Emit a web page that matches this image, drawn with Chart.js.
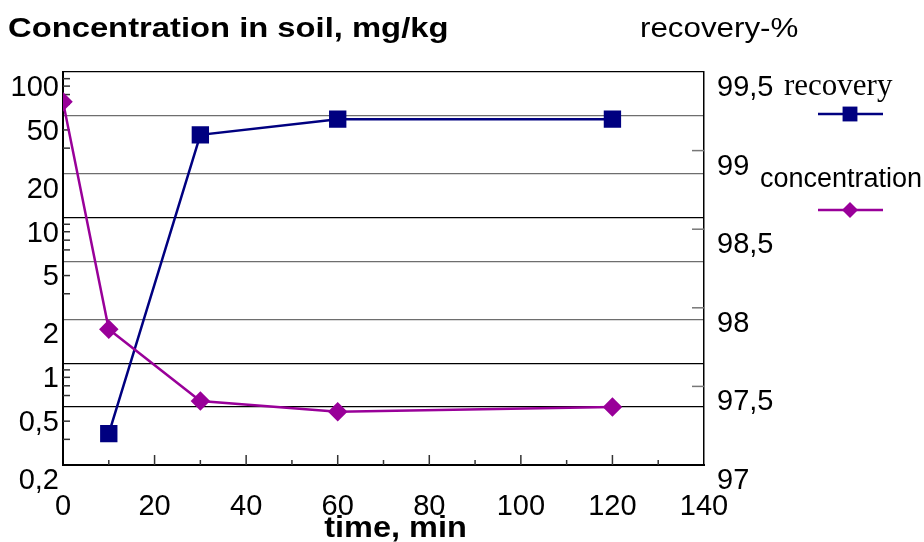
<!DOCTYPE html>
<html>
<head>
<meta charset="utf-8">
<script src="https://cdn.jsdelivr.net/npm/chart.js@4/dist/chart.umd.min.js"></script>
<style>
  body { margin: 0; background: #fff; }
  #wrap { width: 924px; height: 542px; position: relative; }
</style>
</head>
<body>
<div id="wrap"><canvas id="chart"></canvas></div>
<script>
const times = [0, 10, 30, 60, 120];
const concentration = [62.5, 1.71, 0.55, 0.465, 0.5];
const recovery = [null, 97.2, 99.1, 99.2, 99.2];

const concTicks = [0.2, 0.5, 1, 2, 5, 10, 20, 50, 100];
const concMinor = [0.3, 0.4, 0.6, 0.7, 0.8, 0.9, 3, 4, 6, 7, 8, 9, 30, 40, 60, 70, 80, 90];
const recTicks = [97, 97.5, 98, 98.5, 99, 99.5];
const timeTicks = [0, 20, 40, 60, 80, 100, 120, 140];

const blackLines = [0.2, 0.5, 1, 10, 100];
const comma = (v) => String(v).replace('.', ',');
const tickFont = { family: "'Liberation Sans', Arial, sans-serif", size: 29 };

const ctx = document.getElementById('chart');

// short inward tick marks, like the original
const innerTicks = {
    id: 'innerTicks',
    beforeDatasetsDraw(chart) {
        const c = chart.ctx;
        const a = chart.chartArea;
        const sx = chart.scales.x, sl = chart.scales.yConc, sr = chart.scales.yRec;
        c.save();
        c.lineWidth = 1.5;
        c.strokeStyle = '#333';
        for (let v = 10; v < 140; v += 10) {
            const px = sx.getPixelForValue(v);
            const len = v % 20 === 0 ? 10 : 5;
            c.beginPath();
            c.moveTo(px, a.bottom);
            c.lineTo(px, a.bottom - len);
            c.stroke();
        }
        concMinor.forEach(v => {
            const py = sl.getPixelForValue(v);
            c.beginPath();
            c.moveTo(a.left, py);
            c.lineTo(a.left + 7, py);
            c.stroke();
        });
        c.strokeStyle = '#777';
        recTicks.slice(1, -1).forEach(v => {
            const py = sr.getPixelForValue(v);
            c.beginPath();
            c.moveTo(a.right, py);
            c.lineTo(a.right - 12, py);
            c.stroke();
        });
        c.restore();
    }
};

// headings, x title and the legend at the right
const decor = {
    id: 'decor',
    afterDraw(chart) {
        const c = chart.ctx;
        const a = chart.chartArea;
        c.save();
        c.fillStyle = '#000';
        c.textBaseline = 'alphabetic';

        c.save();
        c.translate(8, 37);
        c.scale(1.17, 1);
        c.font = "bold 28px 'Liberation Sans', Arial, sans-serif";
        c.fillText('Concentration in soil, mg/kg', 0, 0);
        c.restore();

        c.save();
        c.translate(640, 37);
        c.scale(1.16, 1);
        c.font = "27px 'Liberation Sans', Arial, sans-serif";
        c.fillText('recovery-%', 0, 0);
        c.restore();

        c.save();
        c.translate((a.left + a.right) / 2 + 12, 537);
        c.scale(1.12, 1);
        c.textAlign = 'center';
        c.font = "bold 29px 'Liberation Sans', Arial, sans-serif";
        c.fillText('time, min', 0, 0);
        c.restore();

        const items = [
            { ds: chart.data.datasets[1], text: 'recovery', font: "31px 'Liberation Serif', 'Times New Roman', serif", tx: a.right + 80, ty: 95, ly: 114 },
            { ds: chart.data.datasets[0], text: 'concentration', font: "27px 'Liberation Sans', Arial, sans-serif", tx: a.right + 56, ty: 187, ly: 210 }
        ];
        items.forEach(it => {
            c.font = it.font;
            c.fillStyle = '#000';
            c.fillText(it.text, it.tx, it.ty);
            c.strokeStyle = it.ds.borderColor;
            c.lineWidth = 2.5;
            c.beginPath();
            c.moveTo(a.right + 114, it.ly);
            c.lineTo(a.right + 179, it.ly);
            c.stroke();
            c.fillStyle = it.ds.pointBackgroundColor;
            Chart.helpers.drawPoint(c, {
                pointStyle: it.ds.pointStyle,
                radius: it.ds.pointRadius,
                rotation: 0,
                borderWidth: 0
            }, a.right + 146, it.ly);
        });
        c.restore();
    }
};

const data = {
    datasets: [
        {
            label: 'concentration',
            data: times.map((t, i) => ({ x: t, y: concentration[i] })),
            yAxisID: 'yConc',
            borderColor: '#990099',
            backgroundColor: '#990099',
            pointBackgroundColor: '#990099',
            pointBorderColor: '#990099',
            pointStyle: 'rectRot',
            pointRadius: 8,
            borderWidth: 2.5,
            tension: 0
        },
        {
            label: 'recovery',
            data: times.map((t, i) => ({ x: t, y: recovery[i] })),
            yAxisID: 'yRec',
            borderColor: '#000080',
            backgroundColor: '#000080',
            pointBackgroundColor: '#000080',
            pointBorderColor: '#000080',
            pointStyle: 'rect',
            pointRadius: 10.5,
            borderWidth: 2.5,
            tension: 0
        }
    ]
};

const config = {
    type: 'line',
    data: data,
    options: {
        responsive: true,
        maintainAspectRatio: false,
        animation: false,
        layout: { padding: { top: 72, left: 0, right: 0, bottom: 0 } },
        plugins: {
            legend: { display: false },
            tooltip: { enabled: false }
        },
        scales: {
            x: {
                type: 'linear',
                min: 0,
                max: 140,
                afterBuildTicks: (s) => { s.ticks = timeTicks.map(v => ({ value: v })); },
                afterFit: (s) => { s.height = 77; },
                grid: { display: false, drawTicks: false },
                border: { color: '#000', width: 2 },
                ticks: { font: tickFont, color: '#000', padding: 25, maxRotation: 0, autoSkip: false }
            },
            yConc: {
                type: 'logarithmic',
                position: 'left',
                min: 0.2,
                max: 100,
                afterBuildTicks: (s) => { s.ticks = concTicks.map(v => ({ value: v })); },
                afterFit: (s) => { s.width = 63; },
                grid: {
                    drawTicks: false,
                    lineWidth: 1.3,
                    color: (c) => blackLines.includes(c.tick.value) ? '#000' : '#6e6e6e'
                },
                border: { color: '#000', width: 2 },
                ticks: {
                    font: tickFont,
                    color: '#000',
                    padding: 4,
                    labelOffset: 16,
                    autoSkip: false,
                    callback: (v) => comma(v)
                }
            },
            yRec: {
                type: 'linear',
                position: 'right',
                min: 97,
                max: 99.5,
                afterBuildTicks: (s) => { s.ticks = recTicks.map(v => ({ value: v })); },
                afterFit: (s) => { s.width = 220; },
                grid: { display: false, drawTicks: false },
                border: { color: '#000', width: 1.5 },
                ticks: {
                    font: tickFont,
                    color: '#000',
                    padding: 13,
                    labelOffset: 16,
                    autoSkip: false,
                    callback: (v) => comma(v)
                }
            }
        }
    },
    plugins: [innerTicks, decor]
};

const chart = new Chart(ctx, config);
</script>
</body>
</html>
